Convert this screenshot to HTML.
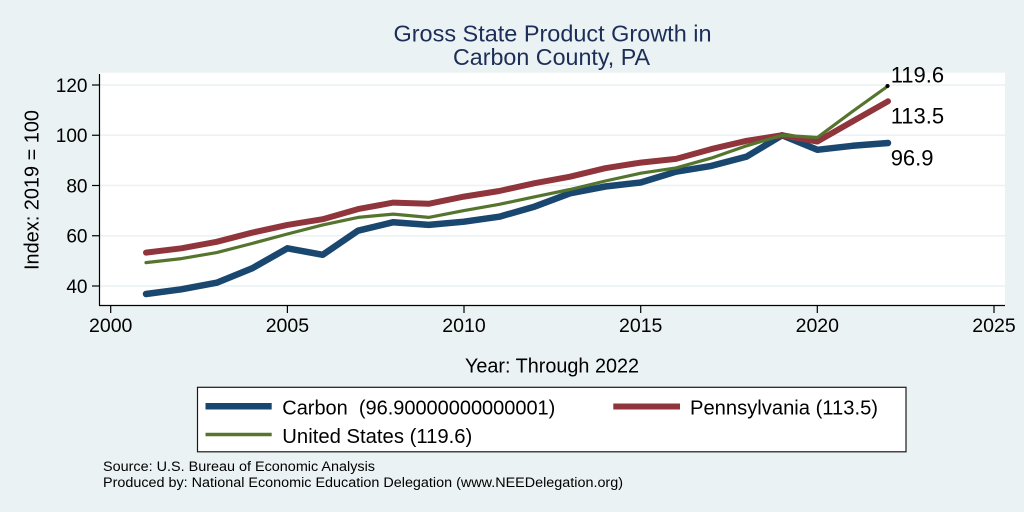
<!DOCTYPE html>
<html>
<head>
<meta charset="utf-8">
<style>
html,body{margin:0;padding:0;background:#eaf2f3;}
svg{display:block;}
text{font-family:"Liberation Sans",Arial,Helvetica,sans-serif;}
</style>
</head>
<body>
<svg width="1024" height="512" viewBox="0 0 1024 512" xmlns="http://www.w3.org/2000/svg">
<rect x="0" y="0" width="1024" height="512" fill="#eaf2f3"/>
<!-- Title -->
<text x="552.5" y="41.7" font-size="23.5" fill="#1c2d57" text-anchor="middle" textLength="318" lengthAdjust="spacingAndGlyphs">Gross State Product Growth in</text>
<text x="551.5" y="65" font-size="23" fill="#1c2d57" text-anchor="middle" textLength="197" lengthAdjust="spacingAndGlyphs">Carbon County, PA</text>

<!-- Plot area -->
<rect x="100" y="72.7" width="905" height="232.3" fill="#ffffff"/>
<!-- gridlines -->
<g stroke="#eaf2f3" stroke-width="1.6">
<line x1="100" y1="85" x2="1005" y2="85"/>
<line x1="100" y1="135.25" x2="1005" y2="135.25"/>
<line x1="100" y1="185.5" x2="1005" y2="185.5"/>
<line x1="100" y1="235.75" x2="1005" y2="235.75"/>
<line x1="100" y1="286" x2="1005" y2="286"/>
</g>
<!-- axes -->
<g stroke="#000" stroke-width="1.2">
<line x1="99.5" y1="74" x2="99.5" y2="305.5"/>
<line x1="99" y1="305.5" x2="1005" y2="305.5"/>
<line x1="92" y1="85" x2="99.5" y2="85"/>
<line x1="92" y1="135.25" x2="99.5" y2="135.25"/>
<line x1="92" y1="185.5" x2="99.5" y2="185.5"/>
<line x1="92" y1="235.75" x2="99.5" y2="235.75"/>
<line x1="92" y1="286" x2="99.5" y2="286"/>
<line x1="110.7" y1="305.5" x2="110.7" y2="313"/>
<line x1="287.4" y1="305.5" x2="287.4" y2="313"/>
<line x1="464" y1="305.5" x2="464" y2="313"/>
<line x1="640.7" y1="305.5" x2="640.7" y2="313"/>
<line x1="817.3" y1="305.5" x2="817.3" y2="313"/>
<line x1="994" y1="305.5" x2="994" y2="313"/>
</g>
<!-- y tick labels -->
<g font-size="19" fill="#000" text-anchor="end">
<text x="87.5" y="91.8">120</text>
<text x="87.5" y="142">100</text>
<text x="87.5" y="192.3">80</text>
<text x="87.5" y="242.5">60</text>
<text x="87.5" y="292.8">40</text>
</g>
<!-- x tick labels -->
<g font-size="19.5" fill="#000" text-anchor="middle">
<text x="110.7" y="332">2000</text>
<text x="287.4" y="332">2005</text>
<text x="464" y="332">2010</text>
<text x="640.7" y="332">2015</text>
<text x="817.3" y="332">2020</text>
<text x="994" y="332">2025</text>
</g>
<!-- y axis title -->
<text transform="translate(38.5,190) rotate(-90)" x="0" y="0" font-size="20" fill="#000" text-anchor="middle" textLength="160" lengthAdjust="spacingAndGlyphs">Index: 2019 = 100</text>
<!-- x axis title -->
<text x="552" y="372.5" font-size="20" fill="#000" text-anchor="middle" textLength="174" lengthAdjust="spacingAndGlyphs">Year: Through 2022</text>

<!-- Series -->
<polyline fill="none" stroke="#1a476f" stroke-width="6.5" stroke-linejoin="round" stroke-linecap="round"
points="146.0,294.0 181.4,289.3 216.7,282.7 252.0,268.4 287.4,248.3 322.7,254.8 358.0,230.7 393.3,222.2 428.7,224.9 464.0,221.7 499.3,216.7 534.7,206.6 570.0,193.3 605.3,186.5 640.7,182.5 676.0,171.7 711.3,165.9 746.6,156.6 782.0,135.3 817.3,149.8 852.6,145.8 888.0,143.0"/>
<polyline fill="none" stroke="#90353b" stroke-width="6" stroke-linejoin="round" stroke-linecap="round"
points="146.0,252.6 181.4,248.3 216.7,241.8 252.0,232.7 287.4,224.9 322.7,219.2 358.0,209.1 393.3,202.6 428.7,203.8 464.0,196.6 499.3,191.0 534.7,183.2 570.0,176.7 605.3,168.2 640.7,162.6 676.0,158.9 711.3,149.1 746.6,140.8 782.0,135.25 817.3,141.5 852.6,121.4 888.0,101.3"/>
<polyline fill="none" stroke="#55752f" stroke-width="3.2" stroke-linejoin="round" stroke-linecap="round"
points="146.0,262.6 181.4,258.6 216.7,252.6 252.0,243.5 287.4,234.0 322.7,224.9 358.0,217.4 393.3,214.1 428.7,217.4 464.0,210.6 499.3,204.3 534.7,196.8 570.0,189.5 605.3,181.0 640.7,173.2 676.0,167.9 711.3,158.1 746.6,145.8 782.0,135.25 817.3,137.5 852.6,111.4 888.0,86.0"/>
<circle cx="887.5" cy="86" r="2" fill="#000"/>

<!-- value labels -->
<g font-size="22" fill="#000">
<text x="890.7" y="82.5">119.6</text>
<text x="890.7" y="123.3">113.5</text>
<text x="890.7" y="165.7">96.9</text>
</g>

<!-- Legend -->
<rect x="197.5" y="387.3" width="708.5" height="64.5" fill="#ffffff" stroke="#1a1a1a" stroke-width="1.2"/>
<line x1="205.5" y1="406.2" x2="271.7" y2="406.2" stroke="#1a476f" stroke-width="6.5"/>
<line x1="613.3" y1="406.5" x2="680" y2="406.5" stroke="#90353b" stroke-width="6"/>
<line x1="205.5" y1="434.5" x2="271.7" y2="434.5" stroke="#55752f" stroke-width="3.5"/>
<g font-size="20" fill="#000">
<text x="282.3" y="414.5" textLength="273" lengthAdjust="spacingAndGlyphs" xml:space="preserve">Carbon  (96.90000000000001)</text>
<text x="690" y="414.5" textLength="188" lengthAdjust="spacingAndGlyphs">Pennsylvania (113.5)</text>
<text x="282.3" y="443" textLength="190" lengthAdjust="spacingAndGlyphs">United States (119.6)</text>
</g>

<!-- Notes -->
<g font-size="13.5" fill="#000">
<text x="103" y="471" textLength="272" lengthAdjust="spacingAndGlyphs">Source: U.S. Bureau of Economic Analysis</text>
<text x="103" y="487" textLength="520" lengthAdjust="spacingAndGlyphs">Produced by: National Economic Education Delegation (www.NEEDelegation.org)</text>
</g>
</svg>
</body>
</html>
